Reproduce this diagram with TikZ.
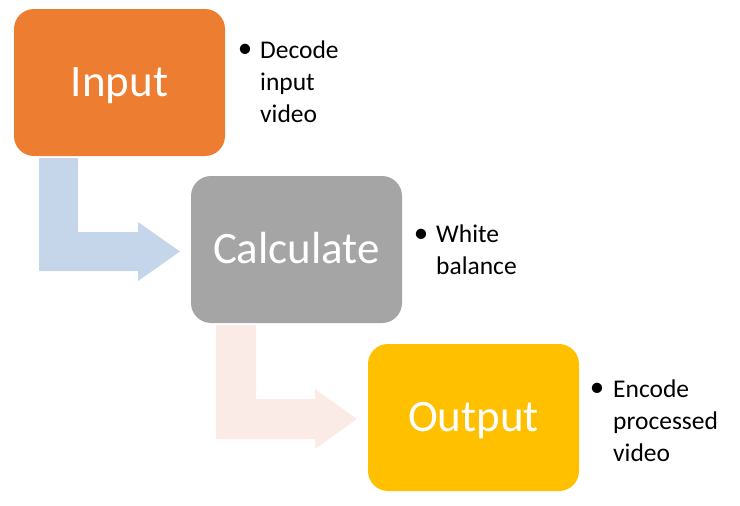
\documentclass[tikz,border=0pt]{standalone}
\usepackage{fontspec}
\setmainfont{Carlito}
\usetikzlibrary{calc}
\definecolor{cOrange}{HTML}{ED7D31}
\definecolor{cGray}{HTML}{A5A5A5}
\definecolor{cGold}{HTML}{FFC000}
\definecolor{cBlueArrow}{HTML}{C5D5EA}
\definecolor{cPinkArrow}{HTML}{FBEBE7}
\tikzset{
  stagebox/.style={rectangle, rounded corners=20pt, minimum width=211pt, minimum height=147pt,
    inner sep=0pt, text=white, font=\fontsize{45}{54}\selectfont, text height=29pt, text depth=2pt},
  bullettext/.style={anchor=north west, inner sep=0pt, align=left, font=\fontsize{25.5}{32}\selectfont},
  bulletdot/.style={inner sep=0pt, anchor=base, font=\fontsize{29}{34}\selectfont}
}
\begin{document}
\begin{tikzpicture}[x=1pt,y=-1pt]
\useasboundingbox (0,0) rectangle (740,506);
% bent arrows
\fill[cBlueArrow] (39,158) -- (78,158) -- (78,232) -- (138,232) -- (138,222) -- (180,251.5)
  -- (138,281) -- (138,271) -- (39,271) -- cycle;
\fill[cPinkArrow] (216,325) -- (256,325) -- (256,399) -- (315,399) -- (315,389) -- (357,419)
  -- (315,449) -- (315,439) -- (216,439) -- cycle;
% stage boxes
\node[stagebox, fill=cOrange] (in) at (119.5,82.5) {Input};
\node[stagebox, fill=cGray] (calc) at (296.5,249.5) {Calculate};
\node[stagebox, fill=cGold] (out) at (473.5,417.5) {Output};
% bullets
\node[bulletdot] (b1) at (245,57.5) {•};
\node[bullettext] (t1) at (260,40.5) {Decode\\input\\video};
\node[bulletdot] (b2) at (421,242) {•};
\node[bullettext] (t2) at (436,225) {White\\balance};
\node[bulletdot] (b3) at (597,396) {•};
\node[bullettext] (t3) at (613,379.5) {Encode\\processed\\video};
\end{tikzpicture}
\end{document}
